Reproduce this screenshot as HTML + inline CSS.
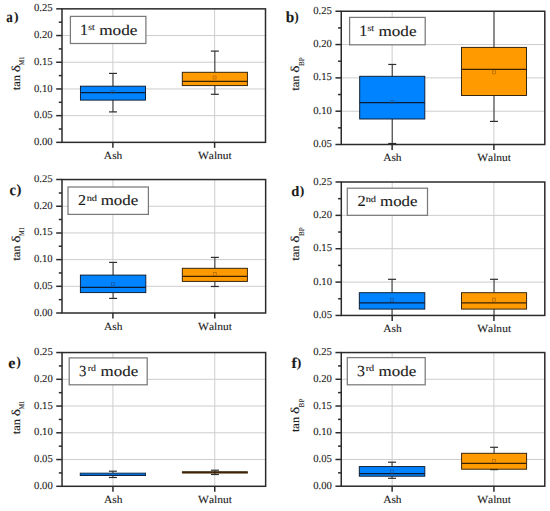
<!DOCTYPE html>
<html><head><meta charset="utf-8"><title>tan delta box plots</title>
<style>
html,body{margin:0;padding:0;background:#fff;}
body{width:550px;height:511px;overflow:hidden;}
svg{display:block;font-family:'Liberation Serif', serif;font-kerning:none;text-rendering:geometricPrecision;}
text{stroke:#1a1a1a;stroke-width:0.1px;}
text.m{stroke-width:0.12px;}
</style></head>
<body>
<svg width="550" height="511" viewBox="0 0 550 511">
<rect width="550" height="511" fill="#fff"/>
<line x1="62" y1="115.65" x2="265.5" y2="115.65" stroke="#cdcdcd" stroke-width="1"/>
<line x1="62" y1="88.95" x2="265.5" y2="88.95" stroke="#cdcdcd" stroke-width="1"/>
<line x1="62" y1="62.25" x2="265.5" y2="62.25" stroke="#cdcdcd" stroke-width="1"/>
<line x1="62" y1="35.55" x2="265.5" y2="35.55" stroke="#cdcdcd" stroke-width="1"/>
<line x1="112.88" y1="8.85" x2="112.88" y2="142.35" stroke="#cdcdcd" stroke-width="1"/>
<line x1="214.62" y1="8.85" x2="214.62" y2="142.35" stroke="#cdcdcd" stroke-width="1"/>
<line x1="112.97" y1="73.4" x2="112.97" y2="86.2" stroke="#3a3a3a" stroke-width="1.05"/>
<line x1="112.97" y1="100.1" x2="112.97" y2="111.9" stroke="#3a3a3a" stroke-width="1.05"/>
<line x1="108.97" y1="73.4" x2="116.97" y2="73.4" stroke="#2e2e2e" stroke-width="1.2"/>
<line x1="108.97" y1="111.9" x2="116.97" y2="111.9" stroke="#2e2e2e" stroke-width="1.2"/>
<rect x="80.45" y="86.2" width="65.05" height="13.9" fill="#0083ff" stroke="#0c1a2e" stroke-width="0.95"/>
<line x1="80.45" y1="92.5" x2="145.5" y2="92.5" stroke="#0a1c34" stroke-width="1.25"/>
<rect x="111.3" y="90.7" width="3" height="3" fill="none" stroke="#1a5a9e" stroke-width="0.75"/>
<line x1="214.85" y1="51.1" x2="214.85" y2="72.3" stroke="#3a3a3a" stroke-width="1.05"/>
<line x1="214.85" y1="85.6" x2="214.85" y2="94.3" stroke="#3a3a3a" stroke-width="1.05"/>
<line x1="210.85" y1="51.1" x2="218.85" y2="51.1" stroke="#2e2e2e" stroke-width="1.2"/>
<line x1="210.85" y1="94.3" x2="218.85" y2="94.3" stroke="#2e2e2e" stroke-width="1.2"/>
<rect x="182.3" y="72.3" width="65.1" height="13.3" fill="#ff9b00" stroke="#2e1f08" stroke-width="0.95"/>
<line x1="182.3" y1="81.4" x2="247.4" y2="81.4" stroke="#3a2200" stroke-width="1.25"/>
<rect x="213.1" y="76" width="3" height="3" fill="none" stroke="#b36b00" stroke-width="0.75"/>
<rect x="62" y="8.85" width="203.5" height="133.5" fill="none" stroke="#2b2b2b" stroke-width="1.5"/>
<line x1="56.2" y1="142.35" x2="62" y2="142.35" stroke="#2b2b2b" stroke-width="1.5"/>
<text transform="translate(33.99,144.9) scale(1.038,1.037)" font-size="10.3" fill="#1a1a1a">0.00</text>
<line x1="58.8" y1="129" x2="62" y2="129" stroke="#2b2b2b" stroke-width="1.5"/>
<line x1="56.2" y1="115.65" x2="62" y2="115.65" stroke="#2b2b2b" stroke-width="1.5"/>
<text transform="translate(33.99,118.2) scale(1.039,1.037)" font-size="10.3" fill="#1a1a1a">0.05</text>
<line x1="58.8" y1="102.3" x2="62" y2="102.3" stroke="#2b2b2b" stroke-width="1.5"/>
<line x1="56.2" y1="88.95" x2="62" y2="88.95" stroke="#2b2b2b" stroke-width="1.5"/>
<text transform="translate(33.99,91.5) scale(1.038,1.037)" font-size="10.3" fill="#1a1a1a">0.10</text>
<line x1="58.8" y1="75.6" x2="62" y2="75.6" stroke="#2b2b2b" stroke-width="1.5"/>
<line x1="56.2" y1="62.25" x2="62" y2="62.25" stroke="#2b2b2b" stroke-width="1.5"/>
<text transform="translate(33.99,64.8) scale(1.039,1.037)" font-size="10.3" fill="#1a1a1a">0.15</text>
<line x1="58.8" y1="48.9" x2="62" y2="48.9" stroke="#2b2b2b" stroke-width="1.5"/>
<line x1="56.2" y1="35.55" x2="62" y2="35.55" stroke="#2b2b2b" stroke-width="1.5"/>
<text transform="translate(33.99,38.1) scale(1.038,1.037)" font-size="10.3" fill="#1a1a1a">0.20</text>
<line x1="58.8" y1="22.2" x2="62" y2="22.2" stroke="#2b2b2b" stroke-width="1.5"/>
<line x1="56.2" y1="8.85" x2="62" y2="8.85" stroke="#2b2b2b" stroke-width="1.5"/>
<text transform="translate(33.99,11.4) scale(1.039,1.037)" font-size="10.3" fill="#1a1a1a">0.25</text>
<line x1="112.88" y1="142.35" x2="112.88" y2="147.85" stroke="#2b2b2b" stroke-width="1.5"/>
<text transform="translate(103.86,159.1) scale(1.042,0.983)" font-size="11" fill="#1a1a1a">Ash</text>
<line x1="214.62" y1="142.35" x2="214.62" y2="147.85" stroke="#2b2b2b" stroke-width="1.5"/>
<text transform="translate(197.91,159.1) scale(1.046,0.983)" font-size="11" fill="#1a1a1a">Walnut</text>
<rect x="70.4" y="16.4" width="75.5" height="27.1" fill="#fff" stroke="#7a7a7a" stroke-width="1.25"/>
<text transform="translate(79.9,34.7) scale(1.020,1.020)" font-size="15.6" fill="#1a1a1a" class="m">1</text>
<text transform="translate(88.3,29.9) scale(1.046,0.964)" font-size="9.4" fill="#1a1a1a" class="m">st</text>
<text transform="translate(99.14,34.7) scale(1.104,0.952)" font-size="15.6" fill="#1a1a1a" class="m">mode</text>
<g transform="translate(19.7,90.1) rotate(-90)"><text transform="translate(-0.12,0) scale(1.080,1.000)" font-size="11.6" fill="#1a1a1a" class="m">tan</text><text transform="translate(17.92,0) scale(1.284,1.000)" font-size="12.0" fill="#1a1a1a" class="m">δ</text><text transform="translate(24.62,4.4) scale(0.863,1.000)" font-size="7.4" fill="#1a1a1a">M1</text></g>
<text transform="translate(6.18,21.65) scale(0.832,1.000)" font-size="15.66" font-weight="bold" fill="#1a1a1a">a</text>
<text transform="translate(14.06,20.58) scale(1.030,1.000)" font-size="13.23" font-weight="bold" fill="#1a1a1a">)</text>
<line x1="341.25" y1="111.19" x2="544.8" y2="111.19" stroke="#cdcdcd" stroke-width="1"/>
<line x1="341.25" y1="77.87" x2="544.8" y2="77.87" stroke="#cdcdcd" stroke-width="1"/>
<line x1="341.25" y1="44.56" x2="544.8" y2="44.56" stroke="#cdcdcd" stroke-width="1"/>
<line x1="392.14" y1="11.25" x2="392.14" y2="144.5" stroke="#cdcdcd" stroke-width="1"/>
<line x1="493.91" y1="11.25" x2="493.91" y2="144.5" stroke="#cdcdcd" stroke-width="1"/>
<line x1="392.25" y1="64.45" x2="392.25" y2="76.3" stroke="#3a3a3a" stroke-width="1.05"/>
<line x1="392.25" y1="119" x2="392.25" y2="143.5" stroke="#3a3a3a" stroke-width="1.05"/>
<line x1="388.25" y1="64.45" x2="396.25" y2="64.45" stroke="#2e2e2e" stroke-width="1.2"/>
<line x1="388.25" y1="143.5" x2="396.25" y2="143.5" stroke="#2e2e2e" stroke-width="1.2"/>
<rect x="359.7" y="76.3" width="65.1" height="42.7" fill="#0083ff" stroke="#0c1a2e" stroke-width="0.95"/>
<line x1="359.7" y1="102.5" x2="424.8" y2="102.5" stroke="#0a1c34" stroke-width="1.25"/>
<rect x="390.7" y="100.4" width="3" height="3" fill="none" stroke="#1a5a9e" stroke-width="0.75"/>
<line x1="494" y1="11.25" x2="494" y2="47.4" stroke="#3a3a3a" stroke-width="1.05"/>
<line x1="494" y1="95.5" x2="494" y2="121.4" stroke="#3a3a3a" stroke-width="1.05"/>
<line x1="490" y1="121.4" x2="498" y2="121.4" stroke="#2e2e2e" stroke-width="1.2"/>
<rect x="461.5" y="47.4" width="65" height="48.1" fill="#ff9b00" stroke="#2e1f08" stroke-width="0.95"/>
<line x1="461.5" y1="69.3" x2="526.5" y2="69.3" stroke="#3a2200" stroke-width="1.25"/>
<rect x="492.4" y="70.85" width="3" height="3" fill="none" stroke="#b36b00" stroke-width="0.75"/>
<rect x="341.25" y="11.25" width="203.55" height="133.25" fill="none" stroke="#2b2b2b" stroke-width="1.5"/>
<line x1="335.45" y1="144.5" x2="341.25" y2="144.5" stroke="#2b2b2b" stroke-width="1.5"/>
<text transform="translate(313.24,147.05) scale(1.039,1.037)" font-size="10.3" fill="#1a1a1a">0.05</text>
<line x1="338.05" y1="127.84" x2="341.25" y2="127.84" stroke="#2b2b2b" stroke-width="1.5"/>
<line x1="335.45" y1="111.19" x2="341.25" y2="111.19" stroke="#2b2b2b" stroke-width="1.5"/>
<text transform="translate(313.24,113.74) scale(1.038,1.037)" font-size="10.3" fill="#1a1a1a">0.10</text>
<line x1="338.05" y1="94.53" x2="341.25" y2="94.53" stroke="#2b2b2b" stroke-width="1.5"/>
<line x1="335.45" y1="77.87" x2="341.25" y2="77.87" stroke="#2b2b2b" stroke-width="1.5"/>
<text transform="translate(313.24,80.42) scale(1.039,1.037)" font-size="10.3" fill="#1a1a1a">0.15</text>
<line x1="338.05" y1="61.22" x2="341.25" y2="61.22" stroke="#2b2b2b" stroke-width="1.5"/>
<line x1="335.45" y1="44.56" x2="341.25" y2="44.56" stroke="#2b2b2b" stroke-width="1.5"/>
<text transform="translate(313.24,47.11) scale(1.038,1.037)" font-size="10.3" fill="#1a1a1a">0.20</text>
<line x1="338.05" y1="27.91" x2="341.25" y2="27.91" stroke="#2b2b2b" stroke-width="1.5"/>
<line x1="335.45" y1="11.25" x2="341.25" y2="11.25" stroke="#2b2b2b" stroke-width="1.5"/>
<text transform="translate(313.24,13.8) scale(1.039,1.037)" font-size="10.3" fill="#1a1a1a">0.25</text>
<line x1="392.14" y1="144.5" x2="392.14" y2="150" stroke="#2b2b2b" stroke-width="1.5"/>
<text transform="translate(383.13,161.3) scale(1.042,0.983)" font-size="11" fill="#1a1a1a">Ash</text>
<line x1="493.91" y1="144.5" x2="493.91" y2="150" stroke="#2b2b2b" stroke-width="1.5"/>
<text transform="translate(477.2,161.3) scale(1.046,0.983)" font-size="11" fill="#1a1a1a">Walnut</text>
<rect x="349.6" y="17.4" width="75.6" height="27.4" fill="#fff" stroke="#7a7a7a" stroke-width="1.25"/>
<text transform="translate(359.2,35.9) scale(1.020,1.010)" font-size="15.6" fill="#1a1a1a" class="m">1</text>
<text transform="translate(367.49,31.4) scale(1.064,0.964)" font-size="9.4" fill="#1a1a1a" class="m">st</text>
<text transform="translate(378.44,35.9) scale(1.098,0.952)" font-size="15.6" fill="#1a1a1a" class="m">mode</text>
<g transform="translate(299.1,90.6) rotate(-90)"><text transform="translate(-0.12,0) scale(1.080,1.000)" font-size="11.6" fill="#1a1a1a" class="m">tan</text><text transform="translate(17.92,0) scale(1.284,1.000)" font-size="12.0" fill="#1a1a1a" class="m">δ</text><text transform="translate(24.59,4.4) scale(0.972,1.000)" font-size="7.4" fill="#1a1a1a">BP</text></g>
<text transform="translate(285.71,22.15) scale(0.988,1.000)" font-size="15.49" font-weight="bold" fill="#1a1a1a">b</text>
<text transform="translate(294.6,20.67) scale(0.904,1.000)" font-size="13.79" font-weight="bold" fill="#1a1a1a">)</text>
<clipPath id="clipc"><rect x="0" y="175.3" width="550" height="400"/></clipPath>
<g clip-path="url(#clipc)">
<line x1="62" y1="286.31" x2="265.65" y2="286.31" stroke="#cdcdcd" stroke-width="1"/>
<line x1="62" y1="259.62" x2="265.65" y2="259.62" stroke="#cdcdcd" stroke-width="1"/>
<line x1="62" y1="232.93" x2="265.65" y2="232.93" stroke="#cdcdcd" stroke-width="1"/>
<line x1="62" y1="206.24" x2="265.65" y2="206.24" stroke="#cdcdcd" stroke-width="1"/>
<line x1="112.91" y1="179.55" x2="112.91" y2="313" stroke="#cdcdcd" stroke-width="1"/>
<line x1="214.74" y1="179.55" x2="214.74" y2="313" stroke="#cdcdcd" stroke-width="1"/>
<line x1="113.1" y1="262.4" x2="113.1" y2="275.1" stroke="#3a3a3a" stroke-width="1.05"/>
<line x1="113.1" y1="292.6" x2="113.1" y2="298.4" stroke="#3a3a3a" stroke-width="1.05"/>
<line x1="109.1" y1="262.4" x2="117.1" y2="262.4" stroke="#2e2e2e" stroke-width="1.2"/>
<line x1="109.1" y1="298.4" x2="117.1" y2="298.4" stroke="#2e2e2e" stroke-width="1.2"/>
<rect x="80.4" y="275.1" width="65.4" height="17.5" fill="#0083ff" stroke="#0c1a2e" stroke-width="0.95"/>
<line x1="80.4" y1="287.4" x2="145.8" y2="287.4" stroke="#0a1c34" stroke-width="1.25"/>
<rect x="111.4" y="282.7" width="3" height="3" fill="none" stroke="#1a5a9e" stroke-width="0.75"/>
<line x1="214.85" y1="257.4" x2="214.85" y2="268.3" stroke="#3a3a3a" stroke-width="1.05"/>
<line x1="214.85" y1="281.4" x2="214.85" y2="286.5" stroke="#3a3a3a" stroke-width="1.05"/>
<line x1="210.85" y1="257.4" x2="218.85" y2="257.4" stroke="#2e2e2e" stroke-width="1.2"/>
<line x1="210.85" y1="286.5" x2="218.85" y2="286.5" stroke="#2e2e2e" stroke-width="1.2"/>
<rect x="182.3" y="268.3" width="65.1" height="13.1" fill="#ff9b00" stroke="#2e1f08" stroke-width="0.95"/>
<line x1="182.3" y1="276.3" x2="247.4" y2="276.3" stroke="#3a2200" stroke-width="1.25"/>
<rect x="213.3" y="272.6" width="3" height="3" fill="none" stroke="#b36b00" stroke-width="0.75"/>
<rect x="62" y="179.55" width="203.65" height="133.45" fill="none" stroke="#2b2b2b" stroke-width="1.5"/>
<line x1="56.2" y1="313" x2="62" y2="313" stroke="#2b2b2b" stroke-width="1.5"/>
<text transform="translate(33.99,315.55) scale(1.038,1.037)" font-size="10.3" fill="#1a1a1a">0.00</text>
<line x1="58.8" y1="299.65" x2="62" y2="299.65" stroke="#2b2b2b" stroke-width="1.5"/>
<line x1="56.2" y1="286.31" x2="62" y2="286.31" stroke="#2b2b2b" stroke-width="1.5"/>
<text transform="translate(33.99,288.86) scale(1.039,1.037)" font-size="10.3" fill="#1a1a1a">0.05</text>
<line x1="58.8" y1="272.96" x2="62" y2="272.96" stroke="#2b2b2b" stroke-width="1.5"/>
<line x1="56.2" y1="259.62" x2="62" y2="259.62" stroke="#2b2b2b" stroke-width="1.5"/>
<text transform="translate(33.99,262.17) scale(1.038,1.037)" font-size="10.3" fill="#1a1a1a">0.10</text>
<line x1="58.8" y1="246.28" x2="62" y2="246.28" stroke="#2b2b2b" stroke-width="1.5"/>
<line x1="56.2" y1="232.93" x2="62" y2="232.93" stroke="#2b2b2b" stroke-width="1.5"/>
<text transform="translate(33.99,235.48) scale(1.039,1.037)" font-size="10.3" fill="#1a1a1a">0.15</text>
<line x1="58.8" y1="219.58" x2="62" y2="219.58" stroke="#2b2b2b" stroke-width="1.5"/>
<line x1="56.2" y1="206.24" x2="62" y2="206.24" stroke="#2b2b2b" stroke-width="1.5"/>
<text transform="translate(33.99,208.79) scale(1.038,1.037)" font-size="10.3" fill="#1a1a1a">0.20</text>
<line x1="58.8" y1="192.9" x2="62" y2="192.9" stroke="#2b2b2b" stroke-width="1.5"/>
<line x1="56.2" y1="179.55" x2="62" y2="179.55" stroke="#2b2b2b" stroke-width="1.5"/>
<text transform="translate(33.99,182.1) scale(1.039,1.037)" font-size="10.3" fill="#1a1a1a">0.25</text>
<line x1="112.91" y1="313" x2="112.91" y2="318.5" stroke="#2b2b2b" stroke-width="1.5"/>
<text transform="translate(103.9,329.7) scale(1.042,0.983)" font-size="11" fill="#1a1a1a">Ash</text>
<line x1="214.74" y1="313" x2="214.74" y2="318.5" stroke="#2b2b2b" stroke-width="1.5"/>
<text transform="translate(198.03,329.7) scale(1.046,0.983)" font-size="11" fill="#1a1a1a">Walnut</text>
<rect x="68" y="187" width="80.4" height="27.4" fill="#fff" stroke="#7a7a7a" stroke-width="1.25"/>
<text transform="translate(78.1,205.1) scale(1.023,0.958)" font-size="15.6" fill="#1a1a1a" class="m">2</text>
<text transform="translate(86.66,200.7) scale(1.103,0.966)" font-size="9.4" fill="#1a1a1a" class="m">nd</text>
<text transform="translate(100.65,205.1) scale(1.083,0.952)" font-size="15.6" fill="#1a1a1a" class="m">mode</text>
<g transform="translate(19.9,260.6) rotate(-90)"><text transform="translate(-0.12,0) scale(1.080,1.000)" font-size="11.6" fill="#1a1a1a" class="m">tan</text><text transform="translate(17.92,0) scale(1.284,1.000)" font-size="12.0" fill="#1a1a1a" class="m">δ</text><text transform="translate(24.62,4.4) scale(0.863,1.000)" font-size="7.4" fill="#1a1a1a">M1</text></g>
<text transform="translate(9.5,195.15) scale(0.908,1.000)" font-size="16.03" font-weight="bold" fill="#1a1a1a">c</text>
<text transform="translate(16.52,193.74) scale(1.064,1.000)" font-size="13.9" font-weight="bold" fill="#1a1a1a">)</text>
</g>
<line x1="341.3" y1="282.09" x2="544.8" y2="282.09" stroke="#cdcdcd" stroke-width="1"/>
<line x1="341.3" y1="248.72" x2="544.8" y2="248.72" stroke="#cdcdcd" stroke-width="1"/>
<line x1="341.3" y1="215.36" x2="544.8" y2="215.36" stroke="#cdcdcd" stroke-width="1"/>
<line x1="392.18" y1="182" x2="392.18" y2="315.45" stroke="#cdcdcd" stroke-width="1"/>
<line x1="493.92" y1="182" x2="493.92" y2="315.45" stroke="#cdcdcd" stroke-width="1"/>
<line x1="392.05" y1="279.3" x2="392.05" y2="292.7" stroke="#3a3a3a" stroke-width="1.05"/>
<line x1="392.05" y1="309.1" x2="392.05" y2="315.2" stroke="#3a3a3a" stroke-width="1.05"/>
<line x1="388.05" y1="279.3" x2="396.05" y2="279.3" stroke="#2e2e2e" stroke-width="1.2"/>
<rect x="359.3" y="292.7" width="65.5" height="16.4" fill="#0083ff" stroke="#0c1a2e" stroke-width="0.95"/>
<line x1="359.3" y1="302.9" x2="424.8" y2="302.9" stroke="#0a1c34" stroke-width="1.25"/>
<rect x="390.5" y="298.3" width="3" height="3" fill="none" stroke="#1a5a9e" stroke-width="0.75"/>
<line x1="494.05" y1="279.3" x2="494.05" y2="292.7" stroke="#3a3a3a" stroke-width="1.05"/>
<line x1="494.05" y1="309.1" x2="494.05" y2="315.2" stroke="#3a3a3a" stroke-width="1.05"/>
<line x1="490.05" y1="279.3" x2="498.05" y2="279.3" stroke="#2e2e2e" stroke-width="1.2"/>
<rect x="461.5" y="292.7" width="65.1" height="16.4" fill="#ff9b00" stroke="#2e1f08" stroke-width="0.95"/>
<line x1="461.5" y1="302.9" x2="526.6" y2="302.9" stroke="#3a2200" stroke-width="1.25"/>
<rect x="492.5" y="298.1" width="3" height="3" fill="none" stroke="#b36b00" stroke-width="0.75"/>
<rect x="341.3" y="182" width="203.5" height="133.45" fill="none" stroke="#2b2b2b" stroke-width="1.5"/>
<line x1="335.5" y1="315.45" x2="341.3" y2="315.45" stroke="#2b2b2b" stroke-width="1.5"/>
<text transform="translate(313.29,318) scale(1.039,1.037)" font-size="10.3" fill="#1a1a1a">0.05</text>
<line x1="338.1" y1="298.77" x2="341.3" y2="298.77" stroke="#2b2b2b" stroke-width="1.5"/>
<line x1="335.5" y1="282.09" x2="341.3" y2="282.09" stroke="#2b2b2b" stroke-width="1.5"/>
<text transform="translate(313.29,284.64) scale(1.038,1.037)" font-size="10.3" fill="#1a1a1a">0.10</text>
<line x1="338.1" y1="265.41" x2="341.3" y2="265.41" stroke="#2b2b2b" stroke-width="1.5"/>
<line x1="335.5" y1="248.72" x2="341.3" y2="248.72" stroke="#2b2b2b" stroke-width="1.5"/>
<text transform="translate(313.29,251.27) scale(1.039,1.037)" font-size="10.3" fill="#1a1a1a">0.15</text>
<line x1="338.1" y1="232.04" x2="341.3" y2="232.04" stroke="#2b2b2b" stroke-width="1.5"/>
<line x1="335.5" y1="215.36" x2="341.3" y2="215.36" stroke="#2b2b2b" stroke-width="1.5"/>
<text transform="translate(313.29,217.91) scale(1.038,1.037)" font-size="10.3" fill="#1a1a1a">0.20</text>
<line x1="338.1" y1="198.68" x2="341.3" y2="198.68" stroke="#2b2b2b" stroke-width="1.5"/>
<line x1="335.5" y1="182" x2="341.3" y2="182" stroke="#2b2b2b" stroke-width="1.5"/>
<text transform="translate(313.29,184.55) scale(1.039,1.037)" font-size="10.3" fill="#1a1a1a">0.25</text>
<line x1="392.18" y1="315.45" x2="392.18" y2="320.95" stroke="#2b2b2b" stroke-width="1.5"/>
<text transform="translate(383.16,331.9) scale(1.042,0.983)" font-size="11" fill="#1a1a1a">Ash</text>
<line x1="493.92" y1="315.45" x2="493.92" y2="320.95" stroke="#2b2b2b" stroke-width="1.5"/>
<text transform="translate(477.21,331.9) scale(1.046,0.983)" font-size="11" fill="#1a1a1a">Walnut</text>
<rect x="347.3" y="188.2" width="80.2" height="27.1" fill="#fff" stroke="#7a7a7a" stroke-width="1.25"/>
<text transform="translate(357.38,206.4) scale(1.055,0.997)" font-size="15.6" fill="#1a1a1a" class="m">2</text>
<text transform="translate(365.66,201.7) scale(1.103,0.966)" font-size="9.4" fill="#1a1a1a" class="m">nd</text>
<text transform="translate(380.05,206.4) scale(1.080,0.952)" font-size="15.6" fill="#1a1a1a" class="m">mode</text>
<g transform="translate(299.1,260.6) rotate(-90)"><text transform="translate(-0.12,0) scale(1.080,1.000)" font-size="11.6" fill="#1a1a1a" class="m">tan</text><text transform="translate(17.92,0) scale(1.284,1.000)" font-size="12.0" fill="#1a1a1a" class="m">δ</text><text transform="translate(24.59,4.4) scale(0.972,1.000)" font-size="7.4" fill="#1a1a1a">BP</text></g>
<text transform="translate(291.21,195.66) scale(0.998,1.000)" font-size="14.5" font-weight="bold" fill="#1a1a1a">d</text>
<text transform="translate(299.86,194.78) scale(1.030,1.000)" font-size="13.23" font-weight="bold" fill="#1a1a1a">)</text>
<line x1="62.05" y1="459.55" x2="265.65" y2="459.55" stroke="#cdcdcd" stroke-width="1"/>
<line x1="62.05" y1="432.8" x2="265.65" y2="432.8" stroke="#cdcdcd" stroke-width="1"/>
<line x1="62.05" y1="406.05" x2="265.65" y2="406.05" stroke="#cdcdcd" stroke-width="1"/>
<line x1="62.05" y1="379.3" x2="265.65" y2="379.3" stroke="#cdcdcd" stroke-width="1"/>
<line x1="112.95" y1="352.55" x2="112.95" y2="486.3" stroke="#cdcdcd" stroke-width="1"/>
<line x1="214.75" y1="352.55" x2="214.75" y2="486.3" stroke="#cdcdcd" stroke-width="1"/>
<line x1="112.9" y1="471.2" x2="112.9" y2="473.1" stroke="#3a3a3a" stroke-width="1.05"/>
<line x1="112.9" y1="475.6" x2="112.9" y2="477.5" stroke="#3a3a3a" stroke-width="1.05"/>
<line x1="108.9" y1="471.2" x2="116.9" y2="471.2" stroke="#2e2e2e" stroke-width="1.2"/>
<line x1="108.9" y1="477.5" x2="116.9" y2="477.5" stroke="#2e2e2e" stroke-width="1.2"/>
<rect x="80.2" y="473.1" width="65.4" height="2.5" fill="#0083ff" stroke="#0c1a2e" stroke-width="0.8"/>
<line x1="80.2" y1="475.2" x2="145.6" y2="475.2" stroke="#0a1c34" stroke-width="0.8"/>
<line x1="214.95" y1="470.2" x2="214.95" y2="471.7" stroke="#3a3a3a" stroke-width="1.05"/>
<line x1="214.95" y1="473.1" x2="214.95" y2="474.5" stroke="#3a3a3a" stroke-width="1.05"/>
<line x1="210.95" y1="470.2" x2="218.95" y2="470.2" stroke="#2e2e2e" stroke-width="1.2"/>
<line x1="210.95" y1="474.5" x2="218.95" y2="474.5" stroke="#2e2e2e" stroke-width="1.2"/>
<rect x="182.3" y="471.7" width="65.3" height="1.4" fill="#7a4200" stroke="#2e1f08" stroke-width="0.75"/>
<line x1="182.3" y1="472.4" x2="247.6" y2="472.4" stroke="#3a2200" stroke-width="0.9"/>
<rect x="62.05" y="352.55" width="203.6" height="133.75" fill="none" stroke="#2b2b2b" stroke-width="1.5"/>
<line x1="56.25" y1="486.3" x2="62.05" y2="486.3" stroke="#2b2b2b" stroke-width="1.5"/>
<text transform="translate(34.04,488.85) scale(1.038,1.037)" font-size="10.3" fill="#1a1a1a">0.00</text>
<line x1="58.85" y1="472.93" x2="62.05" y2="472.93" stroke="#2b2b2b" stroke-width="1.5"/>
<line x1="56.25" y1="459.55" x2="62.05" y2="459.55" stroke="#2b2b2b" stroke-width="1.5"/>
<text transform="translate(34.04,462.1) scale(1.039,1.037)" font-size="10.3" fill="#1a1a1a">0.05</text>
<line x1="58.85" y1="446.18" x2="62.05" y2="446.18" stroke="#2b2b2b" stroke-width="1.5"/>
<line x1="56.25" y1="432.8" x2="62.05" y2="432.8" stroke="#2b2b2b" stroke-width="1.5"/>
<text transform="translate(34.04,435.35) scale(1.038,1.037)" font-size="10.3" fill="#1a1a1a">0.10</text>
<line x1="58.85" y1="419.43" x2="62.05" y2="419.43" stroke="#2b2b2b" stroke-width="1.5"/>
<line x1="56.25" y1="406.05" x2="62.05" y2="406.05" stroke="#2b2b2b" stroke-width="1.5"/>
<text transform="translate(34.04,408.6) scale(1.039,1.037)" font-size="10.3" fill="#1a1a1a">0.15</text>
<line x1="58.85" y1="392.68" x2="62.05" y2="392.68" stroke="#2b2b2b" stroke-width="1.5"/>
<line x1="56.25" y1="379.3" x2="62.05" y2="379.3" stroke="#2b2b2b" stroke-width="1.5"/>
<text transform="translate(34.04,381.85) scale(1.038,1.037)" font-size="10.3" fill="#1a1a1a">0.20</text>
<line x1="58.85" y1="365.93" x2="62.05" y2="365.93" stroke="#2b2b2b" stroke-width="1.5"/>
<line x1="56.25" y1="352.55" x2="62.05" y2="352.55" stroke="#2b2b2b" stroke-width="1.5"/>
<text transform="translate(34.04,355.1) scale(1.039,1.037)" font-size="10.3" fill="#1a1a1a">0.25</text>
<line x1="112.95" y1="486.3" x2="112.95" y2="491.8" stroke="#2b2b2b" stroke-width="1.5"/>
<text transform="translate(103.94,502.8) scale(1.042,0.983)" font-size="11" fill="#1a1a1a">Ash</text>
<line x1="214.75" y1="486.3" x2="214.75" y2="491.8" stroke="#2b2b2b" stroke-width="1.5"/>
<text transform="translate(198.04,502.8) scale(1.046,0.983)" font-size="11" fill="#1a1a1a">Walnut</text>
<rect x="69.2" y="357.9" width="78" height="26.9" fill="#fff" stroke="#7a7a7a" stroke-width="1.25"/>
<text transform="translate(79.09,376.1) scale(0.947,0.988)" font-size="15.6" fill="#1a1a1a" class="m">3</text>
<text transform="translate(87.8,371.4) scale(1.050,0.935)" font-size="9.4" fill="#1a1a1a" class="m">rd</text>
<text transform="translate(100.54,376.1) scale(1.086,0.952)" font-size="15.6" fill="#1a1a1a" class="m">mode</text>
<g transform="translate(19.9,434.2) rotate(-90)"><text transform="translate(-0.12,0) scale(1.080,1.000)" font-size="11.6" fill="#1a1a1a" class="m">tan</text><text transform="translate(17.92,0) scale(1.284,1.000)" font-size="12.0" fill="#1a1a1a" class="m">δ</text><text transform="translate(24.62,4.4) scale(0.863,1.000)" font-size="7.4" fill="#1a1a1a">M1</text></g>
<text transform="translate(8.25,367.76) scale(1.061,1.000)" font-size="15.22" font-weight="bold" fill="#1a1a1a">e</text>
<text transform="translate(16.59,366.49) scale(0.939,1.000)" font-size="13.68" font-weight="bold" fill="#1a1a1a">)</text>
<line x1="341.25" y1="459.47" x2="544.8" y2="459.47" stroke="#cdcdcd" stroke-width="1"/>
<line x1="341.25" y1="432.74" x2="544.8" y2="432.74" stroke="#cdcdcd" stroke-width="1"/>
<line x1="341.25" y1="406.01" x2="544.8" y2="406.01" stroke="#cdcdcd" stroke-width="1"/>
<line x1="341.25" y1="379.28" x2="544.8" y2="379.28" stroke="#cdcdcd" stroke-width="1"/>
<line x1="392.14" y1="352.55" x2="392.14" y2="486.2" stroke="#cdcdcd" stroke-width="1"/>
<line x1="493.91" y1="352.55" x2="493.91" y2="486.2" stroke="#cdcdcd" stroke-width="1"/>
<line x1="392.05" y1="462.2" x2="392.05" y2="466.6" stroke="#3a3a3a" stroke-width="1.05"/>
<line x1="392.05" y1="476.2" x2="392.05" y2="478.3" stroke="#3a3a3a" stroke-width="1.05"/>
<line x1="388.05" y1="462.2" x2="396.05" y2="462.2" stroke="#2e2e2e" stroke-width="1.2"/>
<line x1="388.05" y1="478.3" x2="396.05" y2="478.3" stroke="#2e2e2e" stroke-width="1.2"/>
<rect x="359.3" y="466.6" width="65.5" height="9.6" fill="#0083ff" stroke="#0c1a2e" stroke-width="0.95"/>
<line x1="359.3" y1="473.5" x2="424.8" y2="473.5" stroke="#0a1c34" stroke-width="1.25"/>
<rect x="390.5" y="469.9" width="3" height="3" fill="none" stroke="#1a5a9e" stroke-width="0.75"/>
<line x1="494.1" y1="447.3" x2="494.1" y2="453.3" stroke="#3a3a3a" stroke-width="1.05"/>
<line x1="494.1" y1="469.2" x2="494.1" y2="469.6" stroke="#3a3a3a" stroke-width="1.05"/>
<line x1="490.1" y1="447.3" x2="498.1" y2="447.3" stroke="#2e2e2e" stroke-width="1.2"/>
<line x1="490.1" y1="469.6" x2="498.1" y2="469.6" stroke="#2e2e2e" stroke-width="1.2"/>
<rect x="461.6" y="453.3" width="65" height="15.9" fill="#ff9b00" stroke="#2e1f08" stroke-width="0.95"/>
<line x1="461.6" y1="463.3" x2="526.6" y2="463.3" stroke="#3a2200" stroke-width="1.25"/>
<rect x="492.5" y="459.6" width="3" height="3" fill="none" stroke="#b36b00" stroke-width="0.75"/>
<rect x="341.25" y="352.55" width="203.55" height="133.65" fill="none" stroke="#2b2b2b" stroke-width="1.5"/>
<line x1="335.45" y1="486.2" x2="341.25" y2="486.2" stroke="#2b2b2b" stroke-width="1.5"/>
<text transform="translate(313.24,488.75) scale(1.038,1.037)" font-size="10.3" fill="#1a1a1a">0.00</text>
<line x1="338.05" y1="472.83" x2="341.25" y2="472.83" stroke="#2b2b2b" stroke-width="1.5"/>
<line x1="335.45" y1="459.47" x2="341.25" y2="459.47" stroke="#2b2b2b" stroke-width="1.5"/>
<text transform="translate(313.24,462.02) scale(1.039,1.037)" font-size="10.3" fill="#1a1a1a">0.05</text>
<line x1="338.05" y1="446.11" x2="341.25" y2="446.11" stroke="#2b2b2b" stroke-width="1.5"/>
<line x1="335.45" y1="432.74" x2="341.25" y2="432.74" stroke="#2b2b2b" stroke-width="1.5"/>
<text transform="translate(313.24,435.29) scale(1.038,1.037)" font-size="10.3" fill="#1a1a1a">0.10</text>
<line x1="338.05" y1="419.38" x2="341.25" y2="419.38" stroke="#2b2b2b" stroke-width="1.5"/>
<line x1="335.45" y1="406.01" x2="341.25" y2="406.01" stroke="#2b2b2b" stroke-width="1.5"/>
<text transform="translate(313.24,408.56) scale(1.039,1.037)" font-size="10.3" fill="#1a1a1a">0.15</text>
<line x1="338.05" y1="392.64" x2="341.25" y2="392.64" stroke="#2b2b2b" stroke-width="1.5"/>
<line x1="335.45" y1="379.28" x2="341.25" y2="379.28" stroke="#2b2b2b" stroke-width="1.5"/>
<text transform="translate(313.24,381.83) scale(1.038,1.037)" font-size="10.3" fill="#1a1a1a">0.20</text>
<line x1="338.05" y1="365.92" x2="341.25" y2="365.92" stroke="#2b2b2b" stroke-width="1.5"/>
<line x1="335.45" y1="352.55" x2="341.25" y2="352.55" stroke="#2b2b2b" stroke-width="1.5"/>
<text transform="translate(313.24,355.1) scale(1.039,1.037)" font-size="10.3" fill="#1a1a1a">0.25</text>
<line x1="392.14" y1="486.2" x2="392.14" y2="491.7" stroke="#2b2b2b" stroke-width="1.5"/>
<text transform="translate(383.13,502.8) scale(1.042,0.983)" font-size="11" fill="#1a1a1a">Ash</text>
<line x1="493.91" y1="486.2" x2="493.91" y2="491.7" stroke="#2b2b2b" stroke-width="1.5"/>
<text transform="translate(477.2,502.8) scale(1.046,0.983)" font-size="11" fill="#1a1a1a">Walnut</text>
<rect x="347.3" y="357.6" width="77.9" height="27.2" fill="#fff" stroke="#7a7a7a" stroke-width="1.25"/>
<text transform="translate(357.04,376.1) scale(1.024,0.988)" font-size="15.6" fill="#1a1a1a" class="m">3</text>
<text transform="translate(365.69,371.4) scale(1.089,0.935)" font-size="9.4" fill="#1a1a1a" class="m">rd</text>
<text transform="translate(378.44,376.1) scale(1.089,0.952)" font-size="15.6" fill="#1a1a1a" class="m">mode</text>
<g transform="translate(299.3,432) rotate(-90)"><text transform="translate(-0.12,0) scale(1.080,1.000)" font-size="11.6" fill="#1a1a1a" class="m">tan</text><text transform="translate(17.92,0) scale(1.284,1.000)" font-size="12.0" fill="#1a1a1a" class="m">δ</text><text transform="translate(24.59,4.4) scale(0.972,1.000)" font-size="7.4" fill="#1a1a1a">BP</text></g>
<text transform="translate(291.38,367.6) scale(1.050,1.000)" font-size="15.05" font-weight="bold" fill="#1a1a1a">f</text>
<text transform="translate(296.66,366.56) scale(1.022,1.000)" font-size="13.34" font-weight="bold" fill="#1a1a1a">)</text>
</svg>
</body></html>
